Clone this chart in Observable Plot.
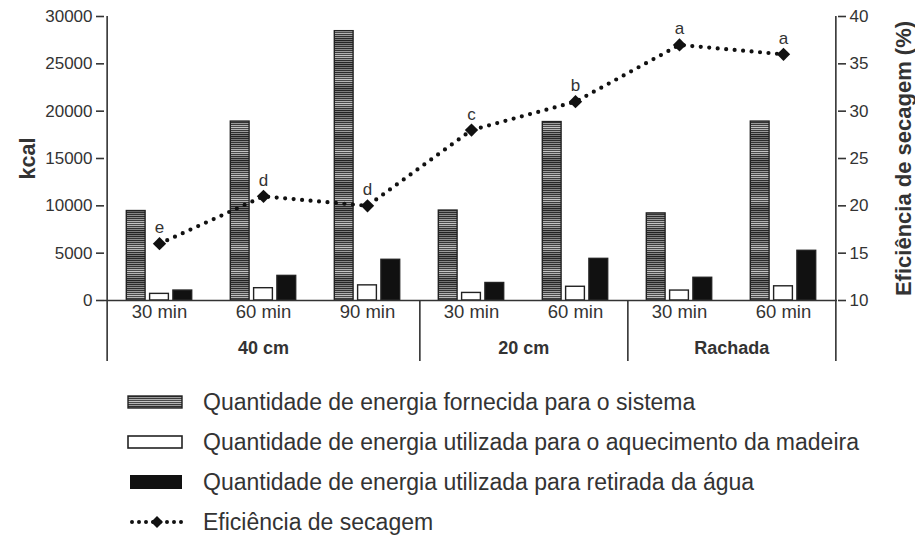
<!DOCTYPE html>
<html><head><meta charset="utf-8">
<script src="https://cdn.jsdelivr.net/npm/d3@7"></script>
<script src="https://cdn.jsdelivr.net/npm/@observablehq/plot@0.6"></script>
<style>
body{margin:0;background:#fff;font-family:"Liberation Sans",Arial,Helvetica,sans-serif;}
#legend{margin-left:127px;padding-top:7px;color:#333;font-size:23px;}
.row{display:flex;align-items:center;height:40px;white-space:nowrap;}
.row svg{margin-right:20px;flex:none;}
</style></head><body>
<div id="chart"></div>
<div id="legend"></div>
<script>
// ---- data ----
const groups = ["40 cm", "40 cm", "40 cm", "20 cm", "20 cm", "Rachada", "Rachada"];
const times = ["30 min", "60 min", "90 min", "30 min", "60 min", "30 min", "60 min"];
const energiaFornecida = [9450, 18900, 28450, 9500, 18850, 9200, 18900];     // kcal
const energiaAquecimento = [700, 1300, 1600, 800, 1450, 1050, 1500];       // kcal
const energiaRetirada = [1050, 2600, 4300, 1850, 4400, 2400, 5250];        // kcal
const eficiencia = [16, 21, 20, 28, 31, 37, 36];                            // %
const letras = ["e", "d", "d", "c", "b", "a", "a"];
const kcalTicks = [0, 5000, 10000, 15000, 20000, 25000, 30000];
const efTicks = [10, 15, 20, 25, 30, 35, 40];
const legendLabels = [
  "Quantidade de energia fornecida para o sistema",
  "Quantidade de energia utilizada para o aquecimento da madeira",
  "Quantidade de energia utilizada para retirada da água",
  "Eficiência de secagem"
];

// ---- layout ----
const W = 915, H = 375, mT = 16, mB = 75, mL = 104, mR = 78;
const yMax = 30000, efMin = 10, efMax = 40;
const bw = (W - mL - mR) / groups.length;
const barW = 19.5, barGap = 23.3;
const inset = (bw - barW) / 2;
const plotH = H - mT - mB;
const yBelow = -61 * yMax / plotH;            // separators extend 61px under the baseline
const ef2kcal = e => (e - efMin) * yMax / (efMax - efMin);

const keys = groups.map((g, i) => g + "|" + times[i]);
const rows = keys.map((k, i) => ({
  key: k, fornecida: energiaFornecida[i], aquecimento: energiaAquecimento[i],
  retirada: energiaRetirada[i], ef: ef2kcal(eficiencia[i]), letra: letras[i]
}));

// group separators & labels
const seps = [];
groups.forEach((g, i) => {
  if (i === groups.length - 1 || groups[i + 1] !== g)
    seps.push({key: keys[i], top: i === groups.length - 1 ? yMax : 0});
});
const groupLabels = [];
[...new Set(groups)].forEach(g => {
  const idx = groups.map((x, i) => x === g ? i : -1).filter(i => i >= 0);
  const mid = (idx[0] + idx[idx.length - 1]) / 2;
  groupLabels.push({label: g, key: keys[Math.floor(mid)], half: mid % 1 !== 0});
});

const ink = "#222";
const svg = Plot.plot({
  width: W, height: H, marginTop: mT, marginBottom: mB, marginLeft: mL, marginRight: mR,
  style: {fontSize: "17px", fontFamily: "'Liberation Sans', Arial, sans-serif", color: "#333", background: "#fff"},
  x: {type: "band", domain: keys, padding: 0},
  y: {domain: [0, yMax]},
  marks: [
    Plot.barY(rows, {x: "key", y: "fornecida", dx: -barGap, insetLeft: inset, insetRight: inset,
      fill: "url(#stripes)", stroke: ink, strokeWidth: 1.4}),
    Plot.barY(rows, {x: "key", y: "aquecimento", insetLeft: inset, insetRight: inset,
      fill: "#fff", stroke: ink, strokeWidth: 1.4}),
    Plot.barY(rows, {x: "key", y: "retirada", dx: barGap, insetLeft: inset, insetRight: inset,
      fill: "#111", stroke: ink, strokeWidth: 1.4}),
    Plot.ruleY([0], {stroke: "#333", strokeWidth: 1.6}),
    // axis lines and group separators
    Plot.ruleX([keys[0]], {x: d => d, y1: yMax, y2: yBelow, dx: -bw / 2, stroke: "#333", strokeWidth: 1.6}),
    Plot.ruleX(seps, {x: "key", y1: "top", y2: yBelow, dx: bw / 2, stroke: "#333", strokeWidth: 1.6}),
    // efficiency line
    Plot.line(rows, {x: "key", y: "ef", stroke: "#111", strokeWidth: 4.2,
      strokeDasharray: "0 8.5", strokeLinecap: "round"}),
    Plot.dot(rows, {x: "key", y: "ef", symbol: "diamond2", r: 6, fill: "#111", stroke: "none"}),
    Plot.text(rows, {x: "key", y: "ef", text: "letra", dy: -16, fontSize: 17, fill: "#333"}),
    // axes
    Plot.axisY(kcalTicks, {anchor: "left", tickSize: 8, tickPadding: 4, label: null, strokeWidth: 1.6,
      tickFormat: v => String(v)}),
    Plot.axisY(efTicks.map(ef2kcal), {anchor: "right", tickSize: 8, tickPadding: 4, label: null, strokeWidth: 1.6,
      tickFormat: v => String(efTicks[kcalTicks.indexOf(v)])}),
    Plot.axisX({tickSize: 0, tickPadding: 4, label: null, fontSize: 18.5, tickFormat: k => times[keys.indexOf(k)]}),
    Plot.text(groupLabels.filter(d => !d.half), {x: "key", y: 0, text: "label", dy: 48, fontSize: 18, fontWeight: "bold", fill: "#333"}),
    Plot.text(groupLabels.filter(d => d.half), {x: "key", y: 0, text: "label", dy: 48, dx: bw / 2, fontSize: 18, fontWeight: "bold", fill: "#333"}),
    // axis titles
    Plot.text(["kcal"], {frameAnchor: "left", textAnchor: "middle", text: d => d, rotate: -90, dx: -76, fontSize: 21.5, fontWeight: "bold", fill: "#333"}),
    Plot.text(["Eficiência de secagem (%)"], {frameAnchor: "right", textAnchor: "middle", text: d => d, rotate: -90, dx: 66, fontSize: 22, fontWeight: "bold", fill: "#333"})
  ]
});

// striped pattern for the "energia fornecida" bars
const NS = "http://www.w3.org/2000/svg";
const stripeGrays = ["#2b2b2b","#8a8a8a","#333","#9a9a9a","#3a3a3a","#b0b0b0","#4a4a4a","#c4c4c4","#4a4a4a","#b4b4b4",
  "#3a3a3a","#9c9c9c","#2e2e2e","#888","#262626","#7a7a7a","#222","#707070","#262626","#7a7a7a","#2b2b2b","#858585","#333","#8f8f8f"];
function addPattern(target) {
  const defs = document.createElementNS(NS, "defs");
  const pat = document.createElementNS(NS, "pattern");
  pat.setAttribute("id", "stripes");
  pat.setAttribute("patternUnits", "userSpaceOnUse");
  pat.setAttribute("width", "8");
  pat.setAttribute("height", String(stripeGrays.length));
  stripeGrays.forEach((c, i) => {
    const r = document.createElementNS(NS, "rect");
    r.setAttribute("x", "0"); r.setAttribute("y", String(i));
    r.setAttribute("width", "8"); r.setAttribute("height", "1");
    r.setAttribute("fill", c);
    pat.appendChild(r);
  });
  defs.appendChild(pat);
  target.insertBefore(defs, target.firstChild);
}
addPattern(svg);
document.getElementById("chart").appendChild(svg);

// legend
const legend = document.getElementById("legend");
const swatches = [
  `<svg width="56" height="16"><rect x="1" y="2" width="54" height="12" fill="url(#stripes)" stroke="${ink}" stroke-width="1.4"/></svg>`,
  `<svg width="56" height="16"><rect x="1" y="2" width="54" height="12" fill="#fff" stroke="${ink}" stroke-width="1.6"/></svg>`,
  `<svg width="56" height="16"><rect x="3" y="1" width="52" height="14" fill="#111"/></svg>`,
  `<svg width="56" height="16"><line x1="5" y1="8" x2="58" y2="8" stroke="#111" stroke-width="4" stroke-dasharray="0 7" stroke-linecap="round"/><path d="M30 2 L36 8 L30 14 L24 8 Z" fill="#111"/></svg>`
];
legendLabels.forEach((t, i) => {
  const row = document.createElement("div");
  row.className = "row";
  row.innerHTML = swatches[i] + `<span>${t}</span>`;
  legend.appendChild(row);
});
</script>
</body></html>
